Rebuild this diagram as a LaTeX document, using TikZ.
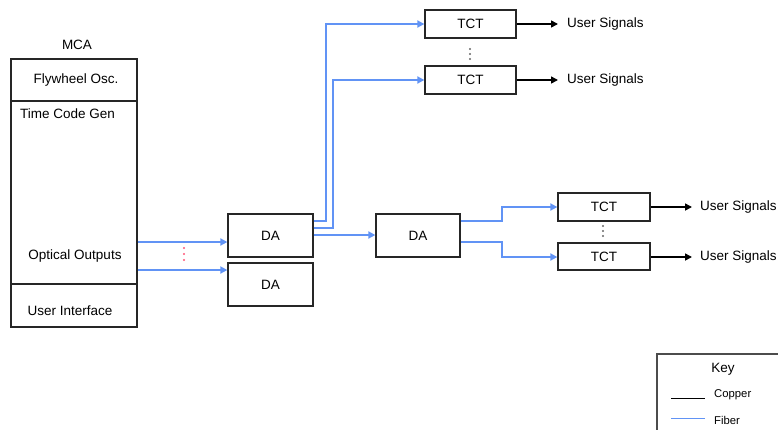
\documentclass[tikz,border=0pt]{standalone}
\usepackage{fontspec}
\setmainfont{Liberation Sans}
\usetikzlibrary{arrows.meta,calc}
\definecolor{fibercol}{HTML}{6193F5}
\definecolor{dotred}{HTML}{FF5577}
\tikzset{
  x=1pt, y=-1pt,
  every node/.style={font=\fontsize{13.5}{16}\selectfont},
  blk/.style={draw=black!85, line width=1.3pt, inner sep=0pt},
  lbl/.style={inner sep=0pt},
  fiber/.style={draw=fibercol, line width=2pt, -{Triangle[length=7pt,width=7pt]}},
  fiberkey/.style={draw=fibercol, line width=1pt},
  copper/.style={draw=black, line width=1.6pt, -{Triangle[length=7pt,width=7pt]}},
  copperkey/.style={draw=black, line width=1pt},
  keytxt/.style={inner sep=0pt, font=\fontsize{11.3}{13}\selectfont},
  dotmark/.style={circle, fill=#1, inner sep=0pt, minimum size=2.2pt},
}
\begin{document}
\begin{tikzpicture}
\useasboundingbox (0,0) rectangle (778,429);

% Master clock assembly
\node[lbl] (mcalbl) at (77,45) {MCA};
\node[blk, minimum width=126pt, minimum height=42pt] (fly) at (74,80) {};
\node[blk, minimum width=126pt, minimum height=183pt] (tcg) at (74,192.5) {};
\node[blk, minimum width=126pt, minimum height=43pt] (ui) at (74,305.5) {};
\node[lbl] (flytxt) at (76,80) {Flywheel Osc.};
\node[lbl, anchor=west] (tcgtxt) at (20,114) {Time Code Gen};
\node[lbl] (opttxt) at (75,256) {Optical Outputs};
\node[lbl] (uitxt) at (70,311) {User Interface};

% Distribution amplifiers
\node[blk, minimum width=85pt, minimum height=43pt] (da1) at (270.5,235.5) {DA};
\node[blk, minimum width=85pt, minimum height=43pt] (da2) at (270.5,284.5) {DA};
\node[blk, minimum width=84pt, minimum height=43pt] (da3) at (418,235.5) {DA};

% Time code translators
\node[blk, minimum width=91pt, minimum height=28pt] (tct1) at (470.5,24) {TCT};
\node[blk, minimum width=91pt, minimum height=28pt] (tct2) at (470.5,80) {TCT};
\node[blk, minimum width=92pt, minimum height=28pt] (tct3) at (604,207) {TCT};
\node[blk, minimum width=92pt, minimum height=27pt] (tct4) at (604,256.5) {TCT};

% Fiber links from the MCA
\coordinate (o1) at (tcg.east |- 0,242);
\coordinate (o2) at (tcg.east |- 0,270);
\draw[fiber] (o1) -- (da1.west |- o1);
\draw[fiber] (o2) -- (da2.west |- o2);

% Fiber links from the first DA
\coordinate (d1a) at (da1.east |- 0,221);
\coordinate (d1b) at (da1.east |- 0,228);
\coordinate (d1c) at (da1.east |- 0,235);
\draw[fiber] (d1a) -- (326,221) -- (326,24) -- (tct1.west);
\draw[fiber] (d1b) -- (333,228) -- (333,80) -- (tct2.west);
\draw[fiber] (d1c) -- (da3.west |- d1c);

% Fiber links from the second-level DA
\coordinate (d3a) at (da3.east |- 0,221);
\coordinate (d3b) at (da3.east |- 0,242);
\draw[fiber] (d3a) -- (502,221) -- (502,207) -- (tct3.west);
\draw[fiber] (d3b) -- (502,242) -- (502,257) -- (tct4.west |- 0,257);

% Copper outputs
\coordinate (u1) at (558,24);
\coordinate (u2) at (558,80);
\coordinate (u3) at (692,207);
\coordinate (u4) at (692,257);
\draw[copper] (tct1.east) -- (u1);
\draw[copper] (tct2.east) -- (u2);
\draw[copper] (tct3.east) -- (u3);
\draw[copper] (tct4.east |- u4) -- (u4);
\node[lbl, anchor=west] (s1) at (567,24) {User Signals};
\node[lbl, anchor=west] (s2) at (567,80) {User Signals};
\node[lbl, anchor=west] (s3) at (700,207) {User Signals};
\node[lbl, anchor=west] (s4) at (700,257) {User Signals};

% Ellipsis dots
\foreach \yy in {49,54,59} \node[dotmark=black!60] at (470,\yy) {};
\foreach \yy in {226,231,236} \node[dotmark=black!60] at (603,\yy) {};
\foreach \yy in {248,254,260} \node[dotmark=dotred] at (184,\yy) {};

% Key
\draw[line width=1.2pt, draw=black!70] (657,432) -- (657,354) -- (782,354);
\node[lbl] (keytitle) at (723,369) {Key};
\coordinate (ck1) at (671,398);
\coordinate (ck2) at (705,398);
\coordinate (fk1) at (671,418);
\coordinate (fk2) at (705,418);
\draw[copperkey] (ck1) -- (ck2);
\draw[fiberkey] (fk1) -- (fk2);
\node[keytxt, anchor=west] (cktxt) at (714,395) {Copper};
\node[keytxt, anchor=west] (fktxt) at (714,420) {Fiber};
\end{tikzpicture}
\end{document}
